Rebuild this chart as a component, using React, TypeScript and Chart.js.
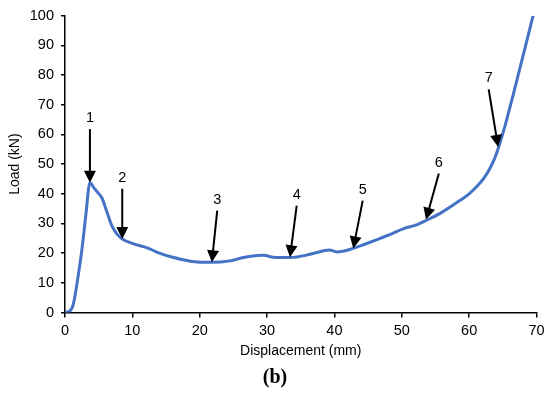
import { useEffect, useRef } from 'react';
import { Chart, registerables } from 'chart.js';

Chart.register(...registerables);

// Displacement (mm) and load (kN)
const displacement = [
  0, 0.6, 1.2, 1.8, 2.5, 3.1, 3.7, 4.3, 4.9, 5.5, 6.2, 7.0, 7.7, 8.5, 10.1, 12.2, 14.0, 16.0,
  18.6, 21.8, 24.5, 26.5, 28.5, 29.5, 30.9, 33.4, 36.4, 38.4, 39.2, 40.4, 42.8, 44.5, 46.8,
  48.5, 50.2, 52.3, 53.6, 55.7, 58.6, 60.0, 61.2, 62.2, 63.1, 63.8, 64.5, 65.4, 66.5, 68.0, 69.5,
];
const load = [
  0, 0.3, 2.5, 10, 21, 33, 43.7, 42, 40.3, 38.5, 34, 29, 26.5, 24.8, 23.2, 21.8, 20, 18.6,
  17.3, 16.9, 17.4, 18.5, 19.2, 19.3, 18.6, 18.5, 19.6, 20.8, 21.1, 20.4, 21.6, 23, 25,
  26.5, 28.2, 29.6, 31, 33.4, 37.7, 40, 42.6, 45.3, 48.6, 52, 56.6, 63.5, 73, 86.5, 100,
];

// Annotated arrows (data units)
const arrowLabels = ['1', '2', '3', '4', '5', '6', '7'];
const arrowTipX = [3.7, 8.5, 21.8, 33.4, 42.8, 53.6, 64.3];
const arrowTipY = [43.7, 24.8, 16.9, 18.6, 21.6, 31.3, 55.8];
const arrowTailX = [3.7, 8.5, 22.6, 34.4, 44.2, 55.5, 62.9];
const arrowTailY = [61.8, 41.7, 34.3, 36.0, 37.7, 46.8, 75.2];

const xTitle = 'Displacement (mm)';
const yTitle = 'Load (kN)';
const caption = '(b)';

const FONT = '"Liberation Sans", Arial, sans-serif';

const arrowPlugin = {
  id: 'arrowsAndCaption',
  afterDatasetsDraw(chart: any) {
    const { ctx, scales } = chart;
    const xs = scales.x;
    const ys = scales.y;
    ctx.save();
    ctx.fillStyle = '#000';
    ctx.strokeStyle = '#000';
    for (let i = 0; i < arrowLabels.length; i++) {
      const tx = xs.getPixelForValue(arrowTipX[i]);
      const ty = ys.getPixelForValue(arrowTipY[i]);
      const sx = xs.getPixelForValue(arrowTailX[i]);
      const sy = ys.getPixelForValue(arrowTailY[i]);
      const ang = Math.atan2(ty - sy, tx - sx);
      const cos = Math.cos(ang);
      const sin = Math.sin(ang);
      const headLen = 12;
      const headW = 6;
      const bx = tx - headLen * cos;
      const by = ty - headLen * sin;
      ctx.lineWidth = 2;
      ctx.beginPath();
      ctx.moveTo(sx, sy);
      ctx.lineTo(bx + cos, by + sin);
      ctx.stroke();
      ctx.beginPath();
      ctx.moveTo(tx, ty);
      ctx.lineTo(bx + headW * sin, by - headW * cos);
      ctx.lineTo(bx - headW * sin, by + headW * cos);
      ctx.closePath();
      ctx.fill();
      ctx.font = `14.5px ${FONT}`;
      ctx.textAlign = 'center';
      ctx.textBaseline = 'middle';
      ctx.fillText(arrowLabels[i], sx, sy - 11);
    }
    ctx.font = 'bold 20px "Liberation Serif", "Times New Roman", serif';
    ctx.textAlign = 'center';
    ctx.textBaseline = 'middle';
    ctx.fillText(caption, chart.width / 2, 378);
    ctx.restore();
  },
};

export default function App() {
  const canvasRef = useRef<HTMLCanvasElement | null>(null);

  useEffect(() => {
    const canvas = canvasRef.current;
    if (!canvas) return;
    const points = displacement.map((d, i) => ({ x: d, y: load[i] }));
    const chart = new Chart(canvas, {
      type: 'line',
      data: {
        datasets: [
          {
            data: points,
            borderColor: '#4472C4',
            borderWidth: 3,
            pointRadius: 0,
            cubicInterpolationMode: 'monotone',
            fill: false,
          },
        ],
      },
      options: {
        responsive: false,
        animation: false,
        layout: { padding: { left: 0, right: 13.5, top: 14, bottom: 33 } },
        plugins: { legend: { display: false }, tooltip: { enabled: false } },
        scales: {
          x: {
            type: 'linear',
            min: 0,
            max: 70,
            afterFit: (s: any) => {
              s.height = 47.5;
            },
            ticks: { stepSize: 10, color: '#000', font: { family: FONT, size: 14.5 }, padding: 5, maxRotation: 0 },
            grid: { drawOnChartArea: false, drawTicks: true, tickLength: 5, color: '#000', lineWidth: 1.5 },
            border: { color: '#000', width: 1.5 },
            title: { display: true, text: xTitle, color: '#000', font: { family: FONT, size: 14 }, padding: 0 },
          },
          y: {
            type: 'linear',
            min: 0,
            max: 100,
            afterFit: (s: any) => {
              s.width = 65;
            },
            ticks: { stepSize: 10, color: '#000', font: { family: FONT, size: 14.5 }, padding: 7 },
            grid: { drawOnChartArea: false, drawTicks: true, tickLength: 4, color: '#000', lineWidth: 1.5 },
            border: { color: '#000', width: 1.5 },
            title: { display: true, text: yTitle, color: '#000', font: { family: FONT, size: 14 }, padding: { top: 6.5, bottom: 0 } },
          },
        },
      },
      plugins: [arrowPlugin],
    } as any);
    return () => chart.destroy();
  }, []);

  return (
    <div style={{ position: 'absolute', left: 0, top: 0, width: 550, height: 393, background: '#fff' }}>
      <canvas ref={canvasRef} width={550} height={393} style={{ width: 550, height: 393 }} />
    </div>
  );
}
